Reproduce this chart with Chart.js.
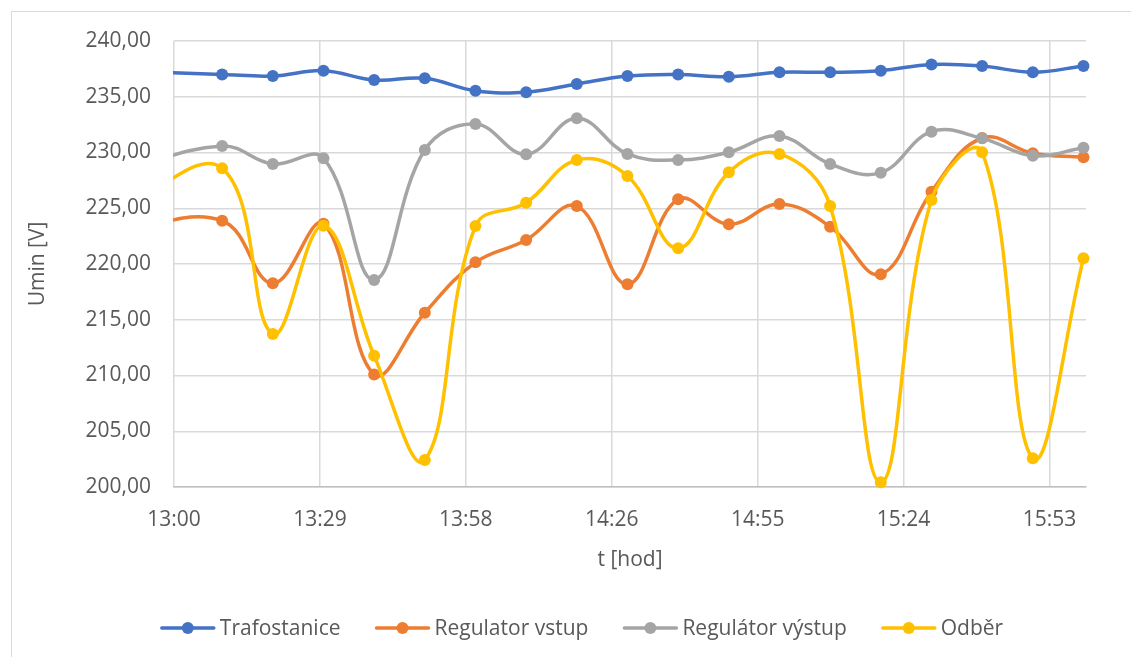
<!DOCTYPE html>
<html>
<head>
<meta charset="utf-8">
<script src="https://cdn.jsdelivr.net/npm/chart.js@4.4.1/dist/chart.umd.min.js"></script>
<style>
  html, body { margin: 0; padding: 0; background: #fff; }
  #wrap { width: 1131px; height: 657px; }
</style>
</head>
<body>
<div id="wrap"><canvas id="uminCanvas" width="1131" height="657"></canvas></div>
<script>
// measurement times (first one lies before the axis start and is clipped)
const times = [
  "12:49:30", "13:09:30", "13:19:30", "13:29:30", "13:39:30", "13:49:30",
  "13:59:30", "14:09:30", "14:19:30", "14:29:30", "14:39:30", "14:49:30",
  "14:59:30", "15:09:30", "15:19:30", "15:29:30", "15:39:30", "15:49:30", "15:59:30",
];

const trafostanice = [237.3, 237.0, 236.86, 237.34, 236.5, 236.65, 235.54, 235.4, 236.14, 236.86,
  237.0, 236.8, 237.2, 237.19, 237.34, 237.9, 237.76, 237.2, 237.76];
const regulatorVstup = [223.0, 223.88, 218.27, 223.6, 210.1, 215.63, 220.15, 222.15, 225.2, 218.18,
  225.8, 223.56, 225.38, 223.35, 219.08, 226.48, 231.3, 229.93, 229.57];
const regulatorVystup = [228.3, 230.58, 228.97, 229.48, 218.57, 230.22, 232.56, 229.84, 233.07, 229.87,
  229.33, 230.02, 231.48, 228.97, 228.19, 231.87, 231.27, 229.71, 230.43];
const odber = [225.0, 228.58, 213.72, 223.43, 211.78, 202.42, 223.41, 225.5, 229.33, 227.89,
  221.41, 228.22, 229.87, 225.2, 200.42, 225.74, 230.02, 202.57, 220.51];

// x axis: 13:00 - 16:00, major unit 0.02 day (28.8 min) like in Excel
const axisStart = "13:00";
const axisEnd = "16:00";
const tickTimes = ["13:00:00", "13:28:48", "13:57:36", "14:26:24", "14:55:12", "15:24:00", "15:52:48"];
const yTicks = [200, 205, 210, 215, 220, 225, 230, 235, 240];

const toMinutes = (t) => {
  const [h, m, s] = t.split(":").map(Number);
  return h * 60 + m + (s || 0) / 60;
};
const fmtTime = (v) => {
  const r = Math.round(v);
  return Math.floor(r / 60) + ":" + String(r % 60).padStart(2, "0");
};
const fmtVolt = (v) => v.toFixed(2).replace(".", ",");

const makeSeries = (values) => values.map((v, i) => ({ x: toMinutes(times[i]), y: v }));

const textColor = "#595959";
const fontFamily = "'Open Sans', 'Liberation Sans', sans-serif";
const fontSize = 21;

const series = [
  { label: "Trafostanice", data: trafostanice, color: "#4472C4", order: 3 },
  { label: "Regulator vstup", data: regulatorVstup, color: "#ED7D31", order: 2 },
  { label: "Regulátor výstup", data: regulatorVystup, color: "#A5A5A5", order: 1 },
  { label: "Odběr", data: odber, color: "#FFC000", order: 0 },
];

// Excel-like frame of the chart object
const framePlugin = {
  id: "frame",
  beforeDraw(chart) {
    const ctx = chart.ctx;
    ctx.save();
    ctx.fillStyle = "#fff";
    ctx.fillRect(0, 0, chart.width, chart.height);
    ctx.strokeStyle = "#d9d9d9";
    ctx.lineWidth = 1;
    ctx.strokeRect(11.5, 11.5, chart.width + 20, chart.height + 20);
    ctx.restore();
  },
};

// legend with line + marker symbols, as in Excel
const legendPlugin = {
  id: "excelLegend",
  afterDraw(chart) {
    const ctx = chart.ctx;
    ctx.save();
    ctx.font = fontSize + "px " + fontFamily;
    const symW = 54;
    const gap = 35;
    const items = chart.data.datasets.map((ds) => ({
      label: ds.label,
      color: ds.borderColor,
      w: symW + 5 + ctx.measureText(ds.label).width,
    }));
    const total = items.reduce((a, it) => a + it.w, 0) + gap * (items.length - 1);
    let x = 582 - total / 2;
    const y = 628;
    items.forEach((it) => {
      ctx.strokeStyle = it.color;
      ctx.lineWidth = 3.5;
      ctx.lineCap = "round";
      ctx.beginPath();
      ctx.moveTo(x + 1, y);
      ctx.lineTo(x + symW - 1, y);
      ctx.stroke();
      ctx.fillStyle = it.color;
      ctx.beginPath();
      ctx.arc(x + symW / 2, y, 6, 0, Math.PI * 2);
      ctx.fill();
      ctx.fillStyle = textColor;
      ctx.textBaseline = "middle";
      ctx.textAlign = "left";
      ctx.fillText(it.label, x + symW + 5, y + 1);
      x += it.w + gap;
    });
    ctx.restore();
  },
};

const uminChart = new Chart(document.getElementById("uminCanvas"), {
  type: "line",
  data: {
    datasets: series.map((s) => ({
      label: s.label,
      data: makeSeries(s.data),
      order: s.order,
      borderColor: s.color,
      backgroundColor: s.color,
      pointBackgroundColor: s.color,
      pointBorderColor: s.color,
      borderWidth: 3.5,
      pointRadius: 6,
      pointBorderWidth: 0,
      pointHoverRadius: 6,
      tension: 0.4,
      fill: false,
      clip: { left: 1, right: 8, top: 8, bottom: 8 },
    })),
  },
  options: {
    responsive: false,
    animation: false,
    layout: { padding: { left: 12, right: 45, top: 41, bottom: 84 } },
    plugins: {
      legend: { display: false },
      tooltip: { enabled: false },
    },
    scales: {
      x: {
        type: "linear",
        min: toMinutes(axisStart),
        max: toMinutes(axisEnd),
        afterBuildTicks: (scale) => {
          scale.ticks = tickTimes.map((t) => ({ value: toMinutes(t) }));
        },
        afterFit: (scale) => {
          scale.height = 86;
        },
        grid: { color: "#d9d9d9", lineWidth: 1.5, drawTicks: false },
        border: { display: true, color: "#bfbfbf", width: 1.5 },
        ticks: {
          color: textColor,
          font: { family: fontFamily, size: fontSize },
          padding: 20,
          maxRotation: 0,
          autoSkip: false,
          callback: (v) => fmtTime(v),
        },
        title: {
          display: true,
          text: "t [hod]",
          color: textColor,
          font: { family: fontFamily, size: fontSize },
          padding: { top: 1, bottom: 0 },
        },
      },
      y: {
        min: yTicks[0],
        max: yTicks[yTicks.length - 1],
        afterBuildTicks: (scale) => {
          scale.ticks = yTicks.map((v) => ({ value: v }));
        },
        afterFit: (scale) => {
          scale.width = 162;
        },
        grid: { color: "#d9d9d9", lineWidth: 1.5, drawTicks: false },
        border: { display: false },
        ticks: {
          color: textColor,
          font: { family: fontFamily, size: fontSize },
          padding: 23,
          callback: (v) => fmtVolt(v),
        },
        title: {
          display: true,
          text: "Umin [V]",
          color: textColor,
          font: { family: fontFamily, size: fontSize },
          padding: { top: 13, bottom: 0 },
        },
      },
    },
  },
  plugins: [framePlugin, legendPlugin],
});
</script>
</body>
</html>
